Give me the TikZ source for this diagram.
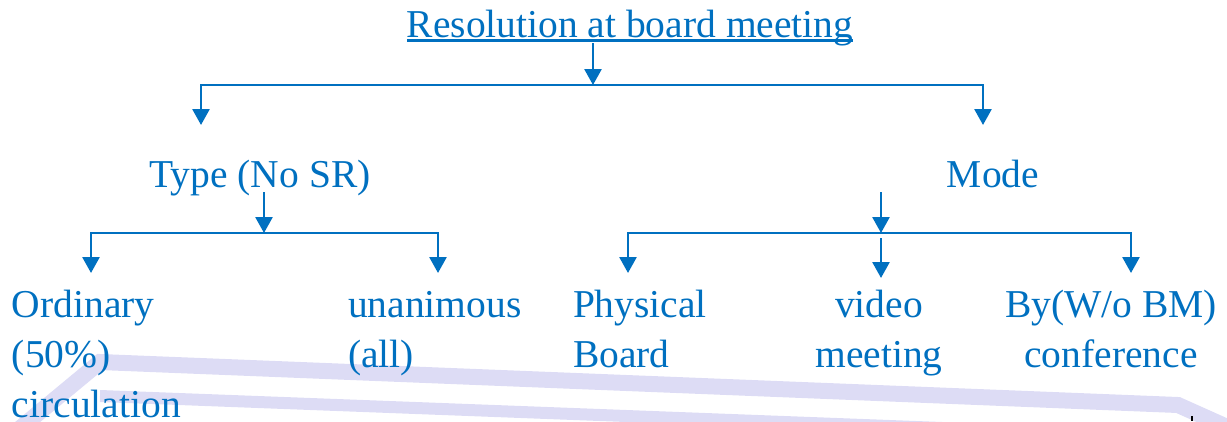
\documentclass[tikz,border=0pt]{standalone}
\usepackage{fontspec}
\setmainfont{Liberation Serif}
\usetikzlibrary{arrows.meta,calc}
\definecolor{mblue}{RGB}{0,112,192}
\definecolor{lav}{RGB}{221,220,245}
\begin{document}
\begin{tikzpicture}[x=1pt,y=-1pt,
  lbl/.style={font=\fontsize{39.5}{50}\selectfont, text=mblue, inner sep=0pt, outer sep=0pt},
  arr/.style={draw=mblue, line width=2.7pt, -{Triangle[width=17pt,length=16pt]}},
  band/.style={draw=lav, line width=16pt}]
\useasboundingbox (0,0) rectangle (1227,421);
% background bands
\draw[band] (18,430) -- (100,362) -- (1178,405) -- (1245,435);
\draw[band, line width=12pt] (100,396) -- (1100,434);
\draw[black, line width=1.2pt] (1192,416) -- (1192,421);
% texts
\node[lbl, anchor=base] (title) at (630,37) {Resolution at board meeting};
\draw[mblue, line width=2.2pt] ($(title.base west)+(0,3.5)$) -- ($(title.base east)+(0,3.5)$);
\node[lbl, anchor=base] (type) at (260,187) {Type (No SR)};
\node[lbl, anchor=base] (mode) at (993,187) {Mode};
\node[lbl, anchor=base west, align=left] (ord) at (12,417) {Ordinary\\(50\%)\\circulation};
\node[lbl, anchor=base west, align=left] (una) at (348,367) {unanimous\\(all)};
\node[lbl, anchor=base west, align=left] (phy) at (573,367) {Physical\\Board};
\node[lbl, anchor=base, align=center] (vid) at (879,367) {video\\meeting};
\node[lbl, anchor=base, align=center] (by) at (1111,367) {By(W/o BM)\\conference};
% coordinates
\coordinate (t0) at (593,43);
\coordinate (j0) at (593,85);
\coordinate (tl) at (201,125);
\coordinate (tr) at (983,125);
\coordinate (a0) at (264,192);
\coordinate (j1) at (264,233);
\coordinate (ol) at (91,273);
\coordinate (ur) at (438,273);
\coordinate (m0) at (881,192);
\coordinate (j2) at (881,233);
\coordinate (pl) at (628,273);
\coordinate (br) at (1131,273);
\coordinate (v0) at (881,238);
\coordinate (v1) at (881,278);
% connectors
\draw[arr] (t0) -- (j0);
\draw[arr] (j0) -| (tl);
\draw[arr] (j0) -| (tr);
\draw[arr] (a0) -- (j1);
\draw[arr] (j1) -| (ol);
\draw[arr] (j1) -| (ur);
\draw[arr] (m0) -- (j2);
\draw[arr] (j2) -| (pl);
\draw[arr] (j2) -| (br);
\draw[arr] (v0) -- (v1);
\end{tikzpicture}
\end{document}
